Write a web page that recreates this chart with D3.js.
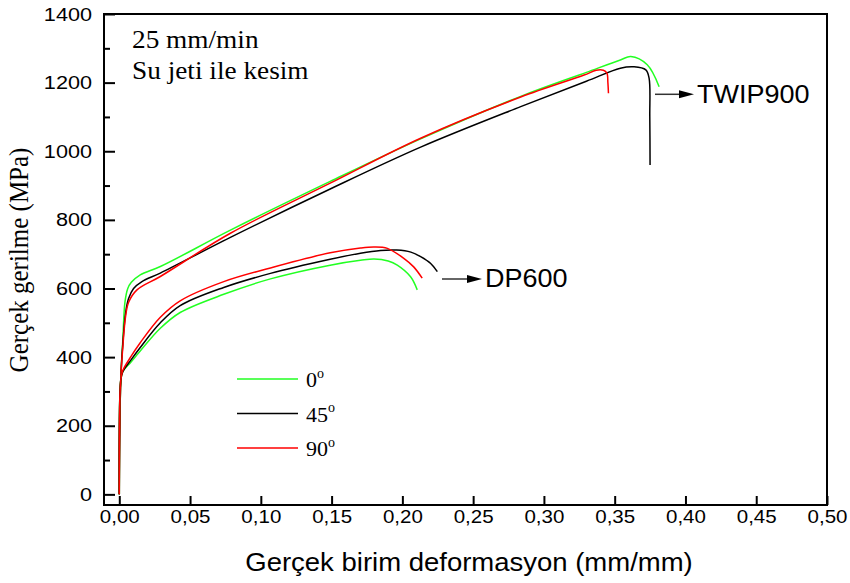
<html>
<head>
<meta charset="utf-8">
<style>
body { margin: 0; background: #fff; }
.axis .domain { display: none; }
.axis line { stroke: #000; stroke-width: 2; }
.sans { font-family: "Liberation Sans", Arial, sans-serif; }
.serif { font-family: "Liberation Serif", "Times New Roman", serif; }
</style>
</head>
<body>
<script src="https://d3js.org/d3.v7.min.js"></script>
<script>

// true strain (mm/mm), true stress (MPa)
var twip0 = [[0,0],[0.001,330],[0.0025,450],[0.004,560],[0.006,600],[0.0085,618],[0.0148,640],[0.029,664],[0.0785,770],[0.149,912],[0.2129,1036],[0.2836,1160],[0.33,1230],[0.354,1266],[0.3614,1276],[0.373,1252],[0.3814,1188]];
var twip45 = [[0,0],[0.001,330],[0.0025,440],[0.0045,530],[0.0065,570],[0.0101,600],[0.016,620],[0.029,645],[0.0785,749],[0.149,890],[0.2129,1012],[0.2836,1130],[0.33,1204],[0.354,1242],[0.3637,1246],[0.372,1237],[0.3743,1213],[0.3748,1100],[0.375,960]];
var twip90 = [[0,0],[0.001,330],[0.0025,430],[0.0045,520],[0.0066,560],[0.0125,596],[0.029,635],[0.0785,761],[0.149,907],[0.2129,1038],[0.2836,1158],[0.3284,1222],[0.337,1236],[0.342,1236],[0.3445,1228],[0.3452,1200],[0.3456,1169]];
var dp0 = [[0,0],[0.001,330],[0.0024,357],[0.0083,386],[0.0148,418],[0.029,484],[0.043,530],[0.0738,583],[0.1068,628],[0.149,668],[0.1704,682],[0.18,686],[0.19,680],[0.1964,668],[0.2058,634],[0.2105,596]];
var dp45 = [[0,0],[0.001,330],[0.0024,357],[0.0083,392],[0.0148,428],[0.029,500],[0.043,550],[0.0738,603],[0.1068,644],[0.149,685],[0.1704,703],[0.1846,711],[0.196,712],[0.206,706],[0.2129,693],[0.22,673],[0.2247,649]];
var dp90 = [[0,0],[0.001,330],[0.0024,360],[0.0083,402],[0.0148,442],[0.029,516],[0.043,564],[0.0738,620],[0.1068,660],[0.149,704],[0.1704,718],[0.18,721],[0.1894,717],[0.201,688],[0.208,663],[0.214,630]];

var angles = ["0", "45", "90"];
var colors = ["#22ff22", "#000000", "#ff0000"];
var xTicks = [0, 0.05, 0.10, 0.15, 0.20, 0.25, 0.30, 0.35, 0.40, 0.45, 0.50];
var yTicks = [0, 200, 400, 600, 800, 1000, 1200, 1400];
var yMinor = [100, 300, 500, 700, 900, 1100, 1300];

var sx = 1.14; // tick labels come out a little wide

var svg = d3.select("body").append("svg")
    .attr("width", 850)
    .attr("height", 583);

var x = d3.scaleLinear().domain([-0.0108, 0.5]).range([104, 827]);
var y = d3.scaleLinear().domain([-31, 1400]).range([505, 14]);

var line = d3.line()
    .x(function(d) { return x(d[0]); })
    .y(function(d) { return y(d[1]); })
    .curve(d3.curveCatmullRom.alpha(0.5));

var curves = [
  {data: twip0, c: 0}, {data: twip45, c: 1}, {data: twip90, c: 2},
  {data: dp0, c: 0}, {data: dp45, c: 1}, {data: dp90, c: 2}
];

svg.append("g").selectAll("path")
  .data(curves)
  .enter().append("path")
    .attr("d", function(d) { return line(d.data); })
    .attr("fill", "none")
    .attr("stroke", function(d) { return colors[d.c]; })
    .attr("stroke-width", 1.5);

// axes, ticks pointing inward
var xAxis = svg.append("g")
    .attr("class", "axis sans")
    .attr("transform", "translate(0,505)")
    .call(d3.axisBottom(x).tickValues(xTicks).tickSizeInner(-9).tickSizeOuter(0).tickPadding(5)
      .tickFormat(function(d) { return d.toFixed(2).replace(".", ","); }));
xAxis.selectAll("text")
    .attr("font-size", 18).attr("font-family", "Liberation Sans").attr("fill", "#000")
    .attr("transform", "scale(" + sx + ",1)");

var yAxis = svg.append("g")
    .attr("class", "axis sans")
    .attr("transform", "translate(104,0)")
    .call(d3.axisLeft(y).tickValues(yTicks).tickSizeInner(-11).tickSizeOuter(0).tickPadding(12)
      .tickFormat(d3.format("d")));
yAxis.selectAll("text")
    .attr("font-size", 19).attr("font-family", "Liberation Sans").attr("fill", "#000")
    .attr("x", -12 / sx)
    .attr("transform", "scale(" + sx + ",1)");

svg.append("g")
    .attr("class", "axis")
    .attr("transform", "translate(104,0)")
    .call(d3.axisLeft(y).tickValues(yMinor).tickSizeInner(-6).tickSizeOuter(0).tickFormat(""));

svg.append("rect")
    .attr("x", 104).attr("y", 14)
    .attr("width", 723).attr("height", 491)
    .attr("fill", "none")
    .attr("stroke", "#000")
    .attr("stroke-width", 2);

// axis titles
svg.append("text")
    .attr("class", "sans")
    .attr("transform", "translate(469,571) scale(1.1,1)")
    .attr("text-anchor", "middle")
    .attr("font-size", 25)
    .text("Gerçek birim deformasyon (mm/mm)");

svg.append("text")
    .attr("class", "serif")
    .attr("transform", "translate(28,260) scale(1.05,1) rotate(-90)")
    .attr("text-anchor", "middle")
    .attr("font-size", 25)
    .text("Gerçek gerilme (MPa)");

// test conditions
svg.append("text")
    .attr("class", "serif")
    .attr("transform", "translate(132,48) scale(1.05,1)")
    .attr("font-size", 26)
    .text("25 mm/min");
svg.append("text")
    .attr("class", "serif")
    .attr("transform", "translate(132,79) scale(1.05,1)")
    .attr("font-size", 26)
    .text("Su jeti ile kesim");

// legend
var legend = svg.append("g").selectAll("g")
    .data(angles)
    .enter().append("g")
    .attr("transform", function(d, i) { return "translate(237," + (379 + i * 34.5) + ")"; });

legend.append("line")
    .attr("x1", 0).attr("x2", 61)
    .attr("stroke", function(d, i) { return colors[i]; })
    .attr("stroke-width", 1.5);

var lt = legend.append("text")
    .attr("class", "serif")
    .attr("x", 69)
    .attr("y", 8)
    .attr("font-size", 22);
lt.append("tspan").text(function(d) { return d; });
lt.append("tspan").attr("font-size", 14).attr("dy", -9.5).text("o");

// material labels with arrows
var notes = [
  {x1: 655, x2: 694, y: 94.3, label: "TWIP900", tx: 697, ty: 103.3},
  {x1: 442, x2: 482, y: 279, label: "DP600", tx: 485, ty: 286.7}
];

var note = svg.append("g").selectAll("g")
    .data(notes)
    .enter().append("g");

note.append("line")
    .attr("x1", function(d) { return d.x1; })
    .attr("x2", function(d) { return d.x2 - 12; })
    .attr("y1", function(d) { return d.y; })
    .attr("y2", function(d) { return d.y; })
    .attr("stroke", "#333")
    .attr("stroke-width", 1.5);

note.append("path")
    .attr("d", function(d) {
      return "M" + d.x2 + "," + d.y + "L" + (d.x2 - 15) + "," + (d.y - 4) + "L" + (d.x2 - 15) + "," + (d.y + 4) + "Z";
    })
    .attr("fill", "#000");

note.append("text")
    .attr("class", "sans")
    .attr("transform", function(d) { return "translate(" + d.tx + "," + d.ty + ") scale(1.08,1)"; })
    .attr("font-size", 25)
    .text(function(d) { return d.label; });

</script>
</body>
</html>
